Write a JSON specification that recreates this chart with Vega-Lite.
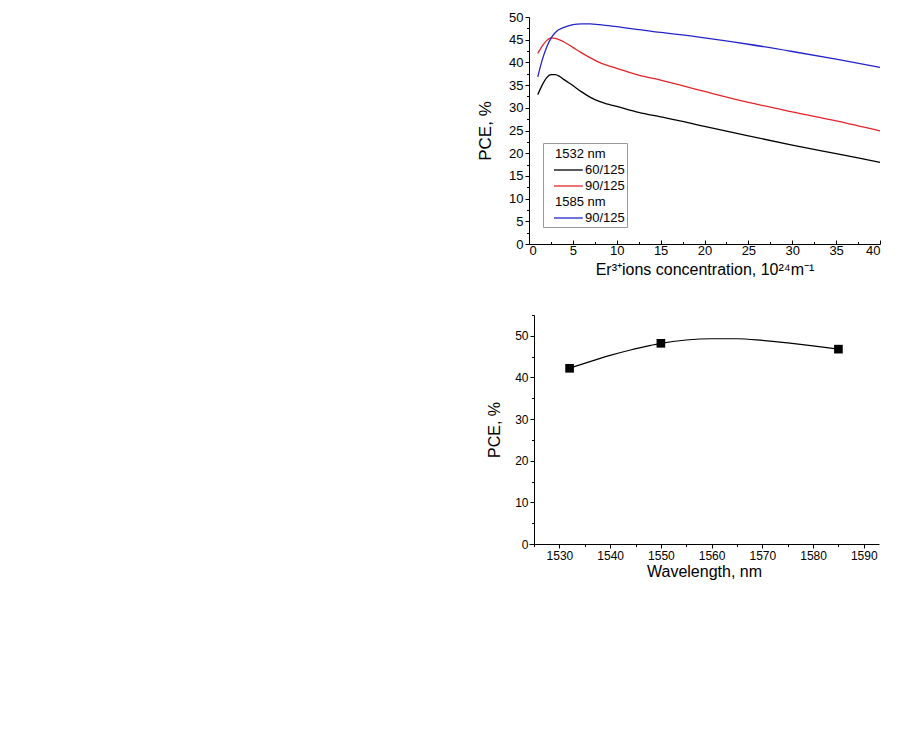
{
  "$schema": "https://vega.github.io/schema/vega-lite/v6.json",
  "background": "white",
  "padding": {"left": 476, "top": 11, "right": 5, "bottom": 5},
  "spacing": 37,
  "config": {
    "view": {"stroke": null},
    "font": "Liberation Sans",
    "axis": {
      "grid": false,
      "domainColor": "#000",
      "tickColor": "#000",
      "labelColor": "#000",
      "titleColor": "#000",
      "labelFont": "Liberation Sans",
      "titleFont": "Liberation Sans",
      "titleFontWeight": "normal",
      "labelOverlap": false,
      "labelPadding": 2
    }
  },
  "vconcat": [
    {
      "width": 351,
      "height": 227,
      "data": {
        "values": [
          {"conc": 1, "pce": 32.9, "series": "1532 nm 60/125"},
          {"conc": 1.5, "pce": 35.0, "series": "1532 nm 60/125"},
          {"conc": 2, "pce": 36.6, "series": "1532 nm 60/125"},
          {"conc": 2.5, "pce": 37.3, "series": "1532 nm 60/125"},
          {"conc": 3, "pce": 37.3, "series": "1532 nm 60/125"},
          {"conc": 3.5, "pce": 36.9, "series": "1532 nm 60/125"},
          {"conc": 4, "pce": 36.2, "series": "1532 nm 60/125"},
          {"conc": 5, "pce": 34.9, "series": "1532 nm 60/125"},
          {"conc": 6, "pce": 33.5, "series": "1532 nm 60/125"},
          {"conc": 7, "pce": 32.3, "series": "1532 nm 60/125"},
          {"conc": 8, "pce": 31.4, "series": "1532 nm 60/125"},
          {"conc": 9, "pce": 30.8, "series": "1532 nm 60/125"},
          {"conc": 10, "pce": 30.3, "series": "1532 nm 60/125"},
          {"conc": 12.5, "pce": 29.0, "series": "1532 nm 60/125"},
          {"conc": 15, "pce": 28.0, "series": "1532 nm 60/125"},
          {"conc": 17.5, "pce": 27.0, "series": "1532 nm 60/125"},
          {"conc": 20, "pce": 25.9, "series": "1532 nm 60/125"},
          {"conc": 25, "pce": 23.8, "series": "1532 nm 60/125"},
          {"conc": 30, "pce": 21.8, "series": "1532 nm 60/125"},
          {"conc": 35, "pce": 19.9, "series": "1532 nm 60/125"},
          {"conc": 40, "pce": 18.0, "series": "1532 nm 60/125"},
          {"conc": 1, "pce": 42.0, "series": "1532 nm 90/125"},
          {"conc": 1.5, "pce": 43.6, "series": "1532 nm 90/125"},
          {"conc": 2, "pce": 44.8, "series": "1532 nm 90/125"},
          {"conc": 2.5, "pce": 45.4, "series": "1532 nm 90/125"},
          {"conc": 3, "pce": 45.3, "series": "1532 nm 90/125"},
          {"conc": 4, "pce": 44.5, "series": "1532 nm 90/125"},
          {"conc": 5, "pce": 43.3, "series": "1532 nm 90/125"},
          {"conc": 6, "pce": 42.1, "series": "1532 nm 90/125"},
          {"conc": 7, "pce": 41.0, "series": "1532 nm 90/125"},
          {"conc": 8, "pce": 40.0, "series": "1532 nm 90/125"},
          {"conc": 9, "pce": 39.3, "series": "1532 nm 90/125"},
          {"conc": 10, "pce": 38.7, "series": "1532 nm 90/125"},
          {"conc": 12.5, "pce": 37.2, "series": "1532 nm 90/125"},
          {"conc": 15, "pce": 36.1, "series": "1532 nm 90/125"},
          {"conc": 20, "pce": 33.6, "series": "1532 nm 90/125"},
          {"conc": 25, "pce": 31.2, "series": "1532 nm 90/125"},
          {"conc": 30, "pce": 29.1, "series": "1532 nm 90/125"},
          {"conc": 35, "pce": 27.1, "series": "1532 nm 90/125"},
          {"conc": 40, "pce": 24.9, "series": "1532 nm 90/125"},
          {"conc": 1, "pce": 36.8, "series": "1585 nm 90/125"},
          {"conc": 1.5, "pce": 40.5, "series": "1585 nm 90/125"},
          {"conc": 2, "pce": 43.3, "series": "1585 nm 90/125"},
          {"conc": 2.5, "pce": 45.3, "series": "1585 nm 90/125"},
          {"conc": 3, "pce": 46.6, "series": "1585 nm 90/125"},
          {"conc": 4, "pce": 47.7, "series": "1585 nm 90/125"},
          {"conc": 5, "pce": 48.3, "series": "1585 nm 90/125"},
          {"conc": 6, "pce": 48.5, "series": "1585 nm 90/125"},
          {"conc": 7, "pce": 48.5, "series": "1585 nm 90/125"},
          {"conc": 8, "pce": 48.3, "series": "1585 nm 90/125"},
          {"conc": 10, "pce": 47.9, "series": "1585 nm 90/125"},
          {"conc": 12.5, "pce": 47.2, "series": "1585 nm 90/125"},
          {"conc": 15, "pce": 46.6, "series": "1585 nm 90/125"},
          {"conc": 20, "pce": 45.4, "series": "1585 nm 90/125"},
          {"conc": 25, "pce": 44.0, "series": "1585 nm 90/125"},
          {"conc": 30, "pce": 42.4, "series": "1585 nm 90/125"},
          {"conc": 35, "pce": 40.7, "series": "1585 nm 90/125"},
          {"conc": 40, "pce": 38.9, "series": "1585 nm 90/125"}
        ]
      },
      "layer": [
        {
          "mark": {"type": "line", "interpolate": "monotone", "strokeWidth": 1.3},
          "encoding": {
            "x": {
              "field": "conc",
              "type": "quantitative",
              "scale": {"domain": [0, 40], "nice": false},
              "axis": {
                "orient": "bottom",
                "title": "Er³⁺ions concentration, 10²⁴m⁻¹",
                "titleFontSize": 16,
                "titlePadding": 4,
                "labelFontSize": 13,
                "values": [0, 5, 10, 15, 20, 25, 30, 35, 40],
                "tickSize": -4,
                "labelPadding": 4
              }
            },
            "y": {
              "field": "pce",
              "type": "quantitative",
              "scale": {"domain": [0, 50], "nice": false},
              "axis": {
                "orient": "left",
                "title": "PCE, %",
                "titleFontSize": 17,
                "titlePadding": 14,
                "labelFontSize": 13,
                "values": [0, 5, 10, 15, 20, 25, 30, 35, 40, 45, 50],
                "tickSize": 4
              }
            },
            "color": {
              "field": "series",
              "type": "nominal",
              "scale": {
                "domain": ["1532 nm", "1532 nm 60/125", "1532 nm 90/125", "1585 nm", "1585 nm 90/125"],
                "range": ["transparent", "#000000", "#e3242b", "transparent", "#2424c8"]
              },
              "legend": {
                "title": null,
                "orient": "none",
                "legendX": 14,
                "legendY": 126,
                "symbolType": "M0,0H3.6",
                "symbolSize": 256,
                "symbolStrokeWidth": 1.3,
                "labelFontSize": 13,
                "labelColor": "#000",
                "labelOffset": 22,
                "labelExpr": "split(datum.label, ' nm ')[1] || datum.label",
                "strokeColor": "#999",
                "fillColor": "white",
                "padding": 2,
                "rowPadding": 0,
                "encoding": {
                  "labels": {
                    "dx": {"condition": {"test": "datum.value == '1532 nm' || datum.value == '1585 nm'", "value": -30}, "value": 0}
                  }
                }
              }
            }
          }
        },
        {
          "mark": {"type": "line", "opacity": 0},
          "encoding": {
            "x": {
              "field": "conc",
              "type": "quantitative",
              "axis": {
                "orient": "bottom",
                "title": null,
                "labels": false,
                "domain": false,
                "values": [2.5, 7.5, 12.5, 17.5, 22.5, 27.5, 32.5, 37.5],
                "tickSize": -2.5
              }
            },
            "y": {
              "field": "pce",
              "type": "quantitative",
              "axis": {
                "orient": "left",
                "title": null,
                "labels": false,
                "domain": false,
                "values": [2.5, 7.5, 12.5, 17.5, 22.5, 27.5, 32.5, 37.5, 42.5, 47.5],
                "tickSize": 2.5
              }
            },
            "detail": {"field": "series"}
          }
        }
      ],
      "resolve": {"axis": {"x": "independent", "y": "independent"}}
    },
    {
      "width": 350,
      "height": 229,
      "layer": [
        {
          "data": {
            "values": [
              {"wavelength": 1532, "pce": 42.2},
              {"wavelength": 1536, "pce": 43.8},
              {"wavelength": 1540, "pce": 45.3},
              {"wavelength": 1544, "pce": 46.6},
              {"wavelength": 1548, "pce": 47.7},
              {"wavelength": 1550, "pce": 48.2},
              {"wavelength": 1555, "pce": 49.0},
              {"wavelength": 1560, "pce": 49.3},
              {"wavelength": 1565, "pce": 49.3},
              {"wavelength": 1570, "pce": 48.9},
              {"wavelength": 1575, "pce": 48.3},
              {"wavelength": 1580, "pce": 47.6},
              {"wavelength": 1585, "pce": 46.8}
            ]
          },
          "mark": {"type": "line", "interpolate": "monotone", "color": "#000", "strokeWidth": 1.2},
          "encoding": {
            "x": {
              "field": "wavelength",
              "type": "quantitative",
              "scale": {"domain": [1524, 1593], "nice": false, "zero": false},
              "axis": {
                "orient": "bottom",
                "title": "Wavelength, nm",
                "titleFontSize": 16,
                "titlePadding": 2,
                "labelFontSize": 12,
                "format": "d",
                "values": [1530, 1540, 1550, 1560, 1570, 1580, 1590],
                "tickSize": 4
              }
            },
            "y": {
              "field": "pce",
              "type": "quantitative",
              "scale": {"domain": [0, 55], "nice": false},
              "axis": {
                "orient": "left",
                "title": "PCE, %",
                "titleFontSize": 16,
                "titlePadding": 12,
                "labelFontSize": 12,
                "offset": -5,
                "values": [0, 10, 20, 30, 40, 50],
                "tickSize": 4
              }
            }
          }
        },
        {
          "data": {
            "values": [
              {"wavelength": 1532, "pce": 42.2},
              {"wavelength": 1550, "pce": 48.2},
              {"wavelength": 1585, "pce": 46.8}
            ]
          },
          "mark": {"type": "square", "size": 75, "color": "#000", "opacity": 1},
          "encoding": {
            "x": {
              "field": "wavelength",
              "type": "quantitative",
              "axis": {
                "orient": "bottom",
                "title": null,
                "labels": false,
                "domain": false,
                "values": [1525, 1535, 1545, 1555, 1565, 1575, 1585],
                "tickSize": 2.5
              }
            },
            "y": {
              "field": "pce",
              "type": "quantitative",
              "axis": {
                "orient": "left",
                "title": null,
                "labels": false,
                "domain": false,
                "offset": -5,
                "values": [5, 15, 25, 35, 45, 55],
                "tickSize": 2.5
              }
            }
          }
        }
      ],
      "resolve": {"axis": {"x": "independent", "y": "independent"}}
    }
  ]
}
